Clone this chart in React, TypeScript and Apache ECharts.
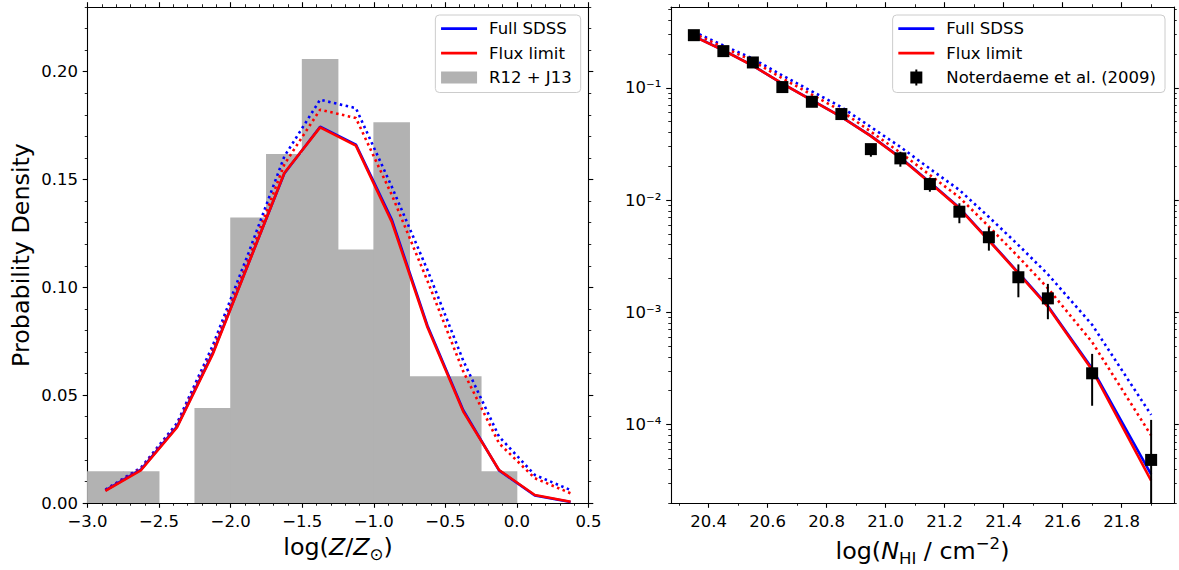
import React, { useEffect, useRef } from 'react';
import * as echarts from 'echarts';

// ---------- Left panel: metallicity distribution ----------
const zCenters = [-2.875, -2.625, -2.375, -2.125, -1.875, -1.625, -1.375, -1.125, -0.875, -0.625, -0.375, -0.125, 0.125, 0.375];
const zFullSDSS = [0.0058, 0.0156, 0.0354, 0.0695, 0.1112, 0.1528, 0.1745, 0.1662, 0.1316, 0.0822, 0.0430, 0.0151, 0.0035, 0.0005];
const zFluxLimit = [0.0056, 0.0153, 0.0350, 0.0690, 0.1110, 0.1530, 0.1742, 0.1657, 0.1305, 0.0815, 0.0424, 0.0153, 0.0037, 0.0006];
const zFullSDSSDotted = [0.0062, 0.0165, 0.0370, 0.0730, 0.1160, 0.1607, 0.1870, 0.1831, 0.1468, 0.1080, 0.0660, 0.0308, 0.0130, 0.0060];
const zFluxLimitDotted = [0.0060, 0.0160, 0.0360, 0.0710, 0.1130, 0.1570, 0.1824, 0.1785, 0.1430, 0.1030, 0.0610, 0.0277, 0.0115, 0.0045];
const histEdges = [-3.0, -2.75, -2.5, -2.25, -2.0, -1.75, -1.5, -1.25, -1.0, -0.75, -0.5, -0.25, 0.0];
const histDensity = [0.0147, 0.0147, 0.0, 0.0441, 0.1324, 0.1618, 0.2059, 0.1176, 0.1765, 0.0588, 0.0588, 0.0147];

const leftXLimits = [-3.0, 0.5];
const leftYLimits = [0, 0.23];
const leftXTicks = [-3.0, -2.5, -2.0, -1.5, -1.0, -0.5, 0.0, 0.5];
const leftYTicks = [0.0, 0.05, 0.1, 0.15, 0.2];

// ---------- Right panel: column density distribution ----------
const nhiX = [20.35, 20.45, 20.55, 20.65, 20.75, 20.85, 20.95, 21.05, 21.15, 21.25, 21.35, 21.45, 21.55, 21.7, 21.9];
const nhiFullSDSS = [0.288, 0.2158, 0.1575, 0.1090, 0.0775, 0.0551, 0.0373, 0.0239, 0.01440, 0.00852, 0.00440, 0.00225, 0.00114, 0.000315, 0.0000360];
const nhiFluxLimit = [0.287, 0.2153, 0.1570, 0.1086, 0.0772, 0.0549, 0.0371, 0.0237, 0.01426, 0.00843, 0.00435, 0.00222, 0.00112, 0.000306, 0.0000316];
const nhiFullSDSSDotted = [0.3155, 0.2383, 0.1812, 0.1288, 0.0929, 0.0673, 0.0447, 0.0297, 0.0190, 0.01228, 0.00706, 0.00397, 0.00218, 0.000774, 0.000122];
const nhiFluxLimitDotted = [0.3048, 0.2287, 0.1729, 0.1211, 0.0867, 0.0621, 0.0406, 0.0264, 0.0167, 0.01057, 0.00580, 0.00312, 0.001637, 0.000542, 0.0000800];

const obsX = [20.35, 20.45, 20.55, 20.65, 20.75, 20.85, 20.95, 21.05, 21.15, 21.25, 21.35, 21.45, 21.55, 21.7, 21.9];
const obsY = [0.294, 0.212, 0.168, 0.1014, 0.0750, 0.0583, 0.0284, 0.0235, 0.01387, 0.00787, 0.00466, 0.00205, 0.00133, 0.000286, 0.0000484];
const obsLo = [0.284, 0.205, 0.162, 0.0975, 0.0715, 0.0553, 0.0243, 0.0198, 0.01186, 0.00621, 0.00354, 0.00136, 0.000867, 0.000147, 0.000001];
const obsHi = [0.304, 0.219, 0.174, 0.1055, 0.0787, 0.0615, 0.0313, 0.0269, 0.0159, 0.00935, 0.00571, 0.00267, 0.00179, 0.000426, 0.000110];

const rightXLimits = [20.2725, 21.9775];
const rightYLimits = [2.0e-5, 0.524];
const rightXTicks = [20.4, 20.6, 20.8, 21.0, 21.2, 21.4, 21.6, 21.8];
const rightYTickExps = [-4, -3, -2, -1];
const rightYTickLabels = ['10\u207B\u2074', '10\u207B\u00B3', '10\u207B\u00B2', '10\u207B\u00B9'];

// ---------- styling ----------
const FONT = 'DejaVu Sans';
const FS = 16.5;
const TITLE_FS = 23.8;
const BLUE = '#0000ff';
const RED = '#ff0000';
const GREY = '#b2b2b2';

function stepValues(from: number, to: number, step: number): number[] {
  const out: number[] = [];
  const n = Math.round((to - from) / step);
  for (let i = 0; i <= n; i++) out.push(Math.round((from + i * step) * 1e6) / 1e6);
  return out;
}

const leftXMinor = stepValues(-3.0, 0.5, 0.1);
const leftYMinor = stepValues(0, 0.23, 0.01);
const rightXMinor = stepValues(20.3, 21.9, 0.1);
const rightYMin = Math.log10(rightYLimits[0]);
const rightYMax = Math.log10(rightYLimits[1]);
const rightYMinor: number[] = [];
for (let n = -6; n <= 0; n++) {
  for (let k = 2; k <= 9; k++) {
    const v = Math.log10(k) + n;
    if (v >= rightYMin && v <= rightYMax) rightYMinor.push(v);
  }
}
const rightYMajor = rightYTickExps.slice();

function axis(grid: number, pos: string, lim: number[], ticks: number[], major: boolean, fmt?: (v: number) => string, extra?: any) {
  const a: any = {
    type: 'value',
    gridIndex: grid,
    position: pos,
    min: lim[0],
    max: lim[1],
    axisLine: { show: major, onZero: false, lineStyle: { color: '#000', width: 1.1 } },
    axisTick: {
      show: true,
      inside: false,
      length: major ? 4.8 : 2.75,
      customValues: ticks,
      lineStyle: { color: '#000', width: major ? 1.1 : 0.85 },
    },
    axisLabel: fmt
      ? { show: true, customValues: ticks, formatter: fmt, fontFamily: FONT, fontSize: FS, color: '#000', margin: 9.6 }
      : { show: false },
    splitLine: { show: false },
    minorTick: { show: false },
    minorSplitLine: { show: false },
    silent: true,
  };
  return Object.assign(a, extra || {});
}

const minusFmt = (d: number) => (v: number) => v.toFixed(d).replace('-', '\u2212');

function lineSeries(name: string, xs: number[], ys: number[], color: string, dotted: boolean, xi: number, yi: number, logY: boolean, z: number) {
  return {
    type: 'line',
    name,
    xAxisIndex: xi,
    yAxisIndex: yi,
    data: xs.map((x, i) => [x, logY ? Math.log10(ys[i]) : ys[i]]),
    symbol: 'none',
    showSymbol: false,
    silent: true,
    z,
    itemStyle: { color },
    lineStyle: { color, width: 2.6, type: dotted ? [2.5, 3.5] : 'solid', cap: 'butt' },
  };
}

const lineIcon = 'path://M0,0H36V2.75H0Z';
const rectIcon = 'path://M0,0H36V12H0Z';
const errIcon = 'path://M5,0H7V2H12V14H7V16H5V14H0V2H5Z';

function buildOption() {
  const xAxis = [
    axis(0, 'bottom', leftXLimits, leftXTicks, true, minusFmt(1), {
      name: '{r|log(}{i|Z}{r|/}{i|Z}{sub|\u2299}{r|)}',
      nameLocation: 'middle',
      nameGap: 27,
      nameTextStyle: {
        rich: {
          r: { fontFamily: FONT, fontSize: TITLE_FS, color: '#000', lineHeight: 32 },
          i: { fontFamily: FONT, fontSize: TITLE_FS, color: '#000', fontStyle: 'italic', lineHeight: 32 },
          sub: { fontFamily: FONT, fontSize: 16.6, color: '#000', lineHeight: 16.6, verticalAlign: 'bottom' },
        },
      },
    }),
    axis(0, 'bottom', leftXLimits, leftXMinor, false),
    axis(0, 'top', leftXLimits, leftXTicks, true),
    axis(0, 'top', leftXLimits, leftXMinor, false),
    axis(1, 'bottom', rightXLimits, rightXTicks, true, minusFmt(1), {
      name: '{r|log(}{i|N}{sub|HI}{r| / cm}{sup|\u22122}{r|)}',
      nameLocation: 'middle',
      nameGap: 27,
      nameTextStyle: {
        rich: {
          r: { fontFamily: FONT, fontSize: TITLE_FS, color: '#000', lineHeight: 32 },
          i: { fontFamily: FONT, fontSize: TITLE_FS, color: '#000', fontStyle: 'italic', lineHeight: 32 },
          sub: { fontFamily: FONT, fontSize: 16.6, color: '#000', lineHeight: 16.6, verticalAlign: 'bottom' },
          sup: { fontFamily: FONT, fontSize: 16.6, color: '#000', lineHeight: 16.6, verticalAlign: 'top' },
        },
      },
    }),
    axis(1, 'bottom', rightXLimits, rightXMinor, false),
    axis(1, 'top', rightXLimits, rightXTicks, true),
    axis(1, 'top', rightXLimits, rightXMinor, false),
  ];
  const yAxis = [
    axis(0, 'left', leftYLimits, leftYTicks, true, minusFmt(2), {
      name: 'Probability Density',
      nameLocation: 'middle',
      nameGap: 55,
      nameRotate: 90,
      nameTextStyle: { fontFamily: FONT, fontSize: TITLE_FS, color: '#000' },
    }),
    axis(0, 'left', leftYLimits, leftYMinor, false),
    axis(0, 'right', leftYLimits, leftYTicks, true),
    axis(0, 'right', leftYLimits, leftYMinor, false),
    axis(1, 'left', [rightYMin, rightYMax], rightYMajor, true, (v: number) => rightYTickLabels[rightYTickExps.indexOf(Math.round(v))] || ''),
    axis(1, 'left', [rightYMin, rightYMax], rightYMinor, false),
    axis(1, 'right', [rightYMin, rightYMax], rightYMajor, true),
    axis(1, 'right', [rightYMin, rightYMax], rightYMinor, false),
  ];

  const legendBase = {
    orient: 'vertical',
    top: 15,
    itemWidth: 36,
    itemHeight: 16,
    itemGap: 7.5,
    padding: [5, 9, 6.5, 5.7],
    borderColor: '#cccccc',
    borderWidth: 1,
    borderRadius: 4,
    backgroundColor: 'rgba(255,255,255,0.8)',
    selectedMode: false,
    textStyle: { fontFamily: FONT, fontSize: FS, color: '#000', lineHeight: 17, padding: [0, 0, 0, 7] },
  };

  const legend = [
    Object.assign({}, legendBase, {
      right: 1179 - 580.7,
      data: [
        { name: 'Full SDSS', icon: lineIcon, itemStyle: { color: BLUE, borderWidth: 0 } },
        { name: 'Flux limit', icon: lineIcon, itemStyle: { color: RED, borderWidth: 0 } },
        { name: 'R12 + J13', icon: rectIcon, itemStyle: { color: GREY, borderWidth: 0 } },
      ],
    }),
    Object.assign({}, legendBase, {
      right: 1179 - 1165,
      data: [
        { name: 'Full SDSS', icon: lineIcon, itemStyle: { color: BLUE, borderWidth: 0 } },
        { name: 'Flux limit', icon: lineIcon, itemStyle: { color: RED, borderWidth: 0 } },
        { name: 'Noterdaeme et al. (2009)', icon: errIcon, itemStyle: { color: '#000', borderWidth: 0 } },
      ],
    }),
  ];

  const histData = histDensity.map((h, i) => [histEdges[i], histEdges[i + 1], h]);
  const obsData = obsX.map((x, i) => [x, Math.log10(obsY[i]), Math.log10(obsLo[i]), Math.log10(obsHi[i])]);

  const series: any[] = [
    {
      type: 'custom',
      name: 'R12 + J13',
      xAxisIndex: 0,
      yAxisIndex: 0,
      silent: true,
      z: 1,
      itemStyle: { color: GREY },
      encode: { x: [0, 1], y: 2 },
      data: histData,
      renderItem: (params: any, api: any) => {
        const p0 = api.coord([api.value(0), 0]);
        const p1 = api.coord([api.value(1), api.value(2)]);
        return {
          type: 'rect',
          shape: { x: p0[0] - 0.4, y: p1[1], width: p1[0] - p0[0] + 0.8, height: p0[1] - p1[1] },
          style: { fill: GREY, stroke: null },
        };
      },
    },
    lineSeries('Full SDSS (all)', zCenters, zFullSDSSDotted, BLUE, true, 0, 0, false, 3),
    lineSeries('Flux limit (all)', zCenters, zFluxLimitDotted, RED, true, 0, 0, false, 4),
    lineSeries('Full SDSS', zCenters, zFullSDSS, BLUE, false, 0, 0, false, 5),
    lineSeries('Flux limit', zCenters, zFluxLimit, RED, false, 0, 0, false, 6),
    lineSeries('Full SDSS (all)', nhiX, nhiFullSDSSDotted, BLUE, true, 4, 4, true, 3),
    lineSeries('Flux limit (all)', nhiX, nhiFluxLimitDotted, RED, true, 4, 4, true, 4),
    lineSeries('Full SDSS', nhiX, nhiFullSDSS, BLUE, false, 4, 4, true, 5),
    lineSeries('Flux limit', nhiX, nhiFluxLimit, RED, false, 4, 4, true, 6),
    {
      type: 'custom',
      name: 'Noterdaeme et al. (2009)',
      xAxisIndex: 4,
      yAxisIndex: 4,
      silent: true,
      z: 8,
      itemStyle: { color: '#000' },
      encode: { x: 0, y: 1 },
      data: obsData,
      renderItem: (params: any, api: any) => {
        const c = api.coord([api.value(0), api.value(1)]);
        const lo = api.coord([api.value(0), api.value(2)]);
        const hi = api.coord([api.value(0), api.value(3)]);
        const cs = params.coordSys;
        const yb = Math.min(lo[1], cs.y + cs.height);
        const yt = Math.max(hi[1], cs.y);
        const s = 12;
        return {
          type: 'group',
          children: [
            { type: 'line', shape: { x1: c[0], y1: yt, x2: c[0], y2: yb }, style: { stroke: '#000', lineWidth: 2 } },
            { type: 'rect', shape: { x: c[0] - s / 2, y: c[1] - s / 2, width: s, height: s }, style: { fill: '#000' } },
          ],
        };
      },
    },
  ];

  return {
    animation: false,
    backgroundColor: '#ffffff',
    textStyle: { fontFamily: FONT },
    grid: [
      { left: 87.5, top: 7, width: 501, height: 496, outerBoundsMode: 'none', containLabel: false },
      { left: 671, top: 7, width: 503, height: 496, outerBoundsMode: 'none', containLabel: false },
    ],
    legend,
    xAxis,
    yAxis,
    series,
  };
}

export default function App() {
  const ref = useRef<HTMLDivElement>(null);
  useEffect(() => {
    if (!ref.current) return;
    const chart = echarts.init(ref.current, undefined, { renderer: 'svg' });
    chart.setOption(buildOption() as any);
    return () => chart.dispose();
  }, []);
  return <div ref={ref} style={{ position: 'absolute', left: 0, top: 0, width: 1179, height: 570 }} />;
}
